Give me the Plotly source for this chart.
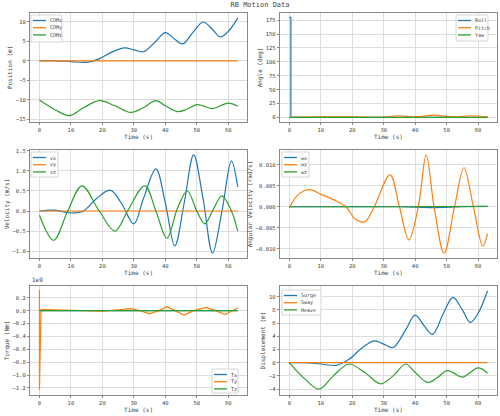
import plotly.graph_objects as go

# ---- data ----
t_comx = [0, 5, 10, 15, 19, 23, 27, 30, 33, 37, 40, 43, 45.5, 49, 52, 55, 57.5, 60, 63]
comx = [0, 0, -0.2, -0.4, 0.5, 2.2, 3.3, 2.8, 2.3, 5.0, 7.2, 5.5, 4.3, 7.5, 9.9, 8.0, 6.1, 7.5, 10.9]
t_comz = [0, 5, 9.5, 14, 19, 24, 29, 33, 37, 40, 44, 47, 50, 52, 55, 60, 63]
comz = [-10, -12.5, -14, -12, -10.2, -11.5, -13.2, -12, -10.2, -11.5, -13, -12.3, -11.2, -11.5, -12.2, -10.8, -11.6]
t_flat = [0, 63]
zeros = [0, 0]

t_roll = [0, 0.5, 0.5, 63]
roll = [180, 180, 0, 0]
t_pitch = [0, 10, 20, 30, 35, 40, 46, 52, 58, 63]
pitch = [0, 1, 1, 0.5, 3, 1, 4, 1, 3, 1]

t_vx = [0, 5, 10, 14, 18, 22.5, 26, 30, 33, 37, 40, 43, 46, 49, 52, 55, 58, 61, 63]
vx = [0, 0.02, -0.05, 0, 0.3, 0.52, 0.2, -0.32, 0.3, 1.05, 0.2, -0.87, 0.2, 1.4, 0.3, -1.05, 0, 1.25, 0.6]
t_vz = [0, 4.5, 9, 13.5, 19, 24, 28, 33.5, 37, 40.5, 44, 47, 50, 52.5, 55, 58, 61, 63]
vz = [-0.1, -0.73, 0, 0.63, 0, -0.5, 0, 0.63, 0, -0.68, 0.1, 0.5, 0, -0.32, 0, 0.38, 0, -0.5]

t_wy = [0, 3, 6.5, 10, 14, 18, 21, 24, 27, 32, 35, 38, 41, 43.5, 46, 49.2, 52.5, 55.5, 58.5, 61.5, 63]
wy = [-0.0003, 0.003, 0.0041, 0.003, 0.0017, 0, -0.003, -0.0036, 0, 0.0076, 0, -0.0079, 0, 0.0123, 0, -0.0111, 0, 0.0093, 0, -0.0094, -0.0064]
t_wx = [0, 35, 45, 55, 63]
wx = [0, 0, -0.0002, 0, 0.0001]
t_wz = [0, 30, 63]
wz = [0, 0, 0.0001]

t_ty = [0, 0, 0, 0.5, 10, 20, 29, 32, 35, 38, 40.5, 43, 46, 49, 53, 56, 59, 63]
ty = [0, 0.32, -1.23, 0.02, 0, -0.01, 0.03, 0, -0.05, 0, 0.06, 0, -0.07, 0, 0.05, 0, -0.06, 0.04]

heave = [v + 10 for v in comz]

C = ['#1f77b4', '#ff7f0e', '#2ca02c']
FONT = 'DejaVu Sans Mono'
fig = go.Figure()

def add(x, y, name, color, ax, shape='spline'):
    fig.add_trace(go.Scatter(x=x, y=y, name=name, mode='lines', line=dict(color=color, width=1.2, shape=shape, smoothing=1.0),
                             xaxis='x' + ax, yaxis='y' + ax, showlegend=False))

add(t_comx, comx, 'COMx', C[0], '')
add(t_flat, zeros, 'COMy', C[1], '')
add(t_comz, comz, 'COMz', C[2], '')
add(t_roll, roll, 'Roll', C[0], '2', 'linear')
add(t_pitch, pitch, 'Pitch', C[1], '2')
add(t_flat, zeros, 'Yaw', C[2], '2')
add(t_vx, vx, 'vx', C[0], '3')
add(t_flat, zeros, 'vy', C[1], '3')
add(t_vz, vz, 'vz', C[2], '3')
add(t_wx, wx, 'wx', C[0], '4')
add(t_wy, wy, 'wy', C[1], '4')
add(t_wz, wz, 'wz', C[2], '4')
add(t_flat, zeros, 'Tx', C[0], '5')
add(t_ty, ty, 'Ty', C[1], '5', 'linear')
add(t_flat, zeros, 'Tz', C[2], '5')
add(t_comx, comx, 'Surge', C[0], '6')
add(t_flat, zeros, 'Sway', C[1], '6')
add(t_comz, heave, 'Heave', C[2], '6')

legend_names = [['COMx', 'COMy', 'COMz'], ['Roll', 'Pitch', 'Yaw'], ['vx', 'vy', 'vz'],
                ['wx', 'wy', 'wz'], ['Tx', 'Ty', 'Tz'], ['Surge', 'Sway', 'Heave']]

xd = [[0.0, 0.465], [0.535, 1.0]]
yd = [[0.715, 1.0], [0.359, 0.641], [0.0, 0.285]]
ycfg = [
    ('Position (m)', [-15.6, 12.2], 5, None),
    ('Angle (deg)', [-8, 188], 25, None),
    ('Velocity (m/s)', [-1.17, 1.52], 0.5, '.1f'),
    ('Angular Velocity (rad/s)', [-0.0122, 0.0135], 0.005, '.3f'),
    ('Torque (Nm)', [-1.31, 0.38], 0.2, '.1f'),
    ('Displacement (m)', [-4.9, 11.6], 2, None),
]
ax = dict(showline=True, linecolor='#888', linewidth=1.2, mirror=True, gridcolor='#ddd', gridwidth=1, automargin=False,
          zeroline=False, ticks='outside', ticklen=2, tickcolor='#888', tickfont=dict(size=5.5, color='#444'))
ML, MB, PW, PH = 30, 21, 467, 382
lay = dict(width=500, height=416, margin=dict(l=ML, r=3, t=13, b=MB), plot_bgcolor='white', paper_bgcolor='white',
           font=dict(family=FONT, size=6, color='#444'), showlegend=False,
           title=dict(text='RB Motion Data', x=0.52, y=0.995, xanchor='center', yanchor='top', font=dict(size=7)))
for i in range(6):
    r, c = divmod(i, 2)
    s = '' if i == 0 else str(i + 1)
    title, rng, dt, fmt = ycfg[i]
    lay['xaxis' + s] = dict(ax, domain=xd[c], anchor='y' + s, range=[-3, 66], dtick=10,
                            title=dict(text='Time (s)', font=dict(size=6), standoff=0))
    ya = dict(ax, domain=yd[r], anchor='x' + s, range=rng, dtick=dt, title=dict(text=title, font=dict(size=6), standoff=2))
    if fmt:
        ya['tickformat'] = fmt
    lay['yaxis' + s] = ya
fig.update_layout(**lay)

# hand-drawn legend boxes (pixel boxes: x0, y0, x1, y1)
def px(x):
    return (x - ML) / PW
def py(y):
    return (416 - MB - y) / PH
boxes = [(31, 15, 62, 42), (456, 15, 488, 41), (31, 152, 58, 177), (282, 152, 309, 177), (212, 369, 238, 393), (282, 290, 321, 315)]
for names, (x0, y0, x1, y1) in zip(legend_names, boxes):
    fig.add_shape(type='rect', xref='paper', yref='paper', x0=px(x0), x1=px(x1), y0=py(y0), y1=py(y1),
                  line=dict(color='#ccc', width=0.8), fillcolor='rgba(255,255,255,0.85)', layer='above')
    for k, nm in enumerate(names):
        yy = y0 + 5.5 + 7.2 * k
        fig.add_shape(type='line', xref='paper', yref='paper', x0=px(x0 + 2), x1=px(x0 + 15), y0=py(yy), y1=py(yy),
                      line=dict(color=C[k], width=1.3), layer='above')
        fig.add_annotation(text=nm, xref='paper', yref='paper', x=px(x0 + 18), y=py(yy), xanchor='left', yanchor='middle',
                           showarrow=False, font=dict(size=5), borderpad=0)

fig.add_annotation(text='1e9', x=0.0, y=0.287, xref='paper', yref='paper', xanchor='left', yanchor='bottom', showarrow=False, font=dict(size=6))
fig.write_html('out.html', config={'displayModeBar': False},
               post_script="document.body.style.margin='0';document.body.style.overflow='hidden';")
